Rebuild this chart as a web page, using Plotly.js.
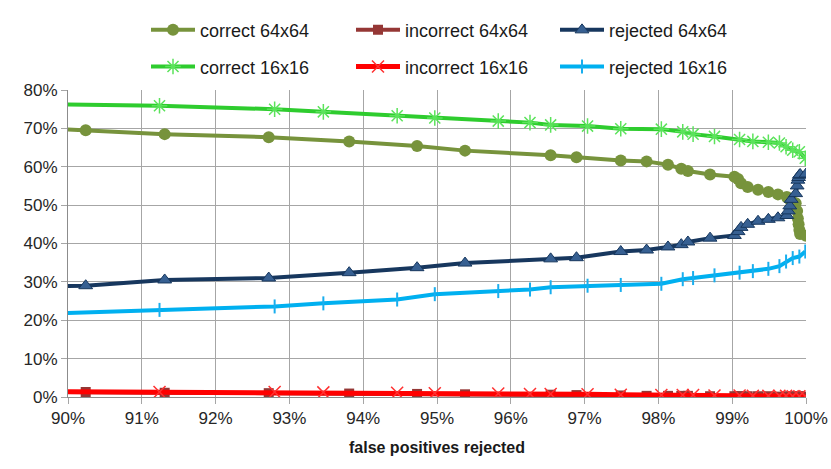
<!DOCTYPE html>
<html>
<head>
<meta charset="utf-8">
<script src="https://cdn.plot.ly/plotly-3.0.1.min.js"></script>
<style>html,body{margin:0;padding:0;background:#fff;}#chart{width:831px;height:469px;}</style>
</head>
<body>
<div id="chart"></div>
<script>
// thresholds (false positives rejected, %) for 64x64 series
const x64 = [89.8, 90.24, 91.31, 92.72, 93.81, 94.73, 95.38, 96.54, 96.89, 97.49, 97.84, 98.13, 98.31, 98.40, 98.70, 99.03, 99.08, 99.12, 99.21, 99.35, 99.49, 99.62, 99.74, 99.76, 99.78, 99.80, 99.86, 99.88, 99.89, 99.90, 99.91, 99.92, 100.0];
const correct64 = [69.9, 69.5, 68.5, 67.7, 66.6, 65.4, 64.2, 63.0, 62.5, 61.6, 61.4, 60.5, 59.5, 58.9, 58.0, 57.4, 56.8, 55.7, 54.7, 54.0, 53.4, 52.8, 52.1, 51.8, 51.5, 51.3, 50.5, 48.5, 46.5, 45.0, 43.5, 42.5, 42.0];
const incorrect64 = [1.3, 1.3, 1.1, 1.0, 0.9, 0.8, 0.7, 0.6, 0.5, 0.4, 0.3, 0.3, 0.3, 0.3, 0.2, 0.2, 0.2, 0.2, 0.2, 0.2, 0.2, 0.1, 0.1, 0.1, 0.1, 0.1, 0.1, 0.1, 0.1, 0.1, 0.1, 0.1, 0.1];
const rejected64 = [28.9, 29.0, 30.5, 31.0, 32.4, 33.7, 34.9, 36.0, 36.3, 37.9, 38.3, 39.1, 39.7, 40.4, 41.4, 42.1, 43.1, 44.2, 45.0, 45.8, 46.3, 46.7, 47.3, 48.5, 49.8, 51.5, 53.0, 55.0, 56.5, 57.2, 57.8, 58.0, 58.1];

// thresholds for 16x16 series
const x16 = [89.8, 91.24, 92.80, 93.46, 94.46, 94.97, 95.83, 96.26, 96.54, 97.04, 97.49, 98.04, 98.33, 98.47, 98.76, 99.10, 99.28, 99.49, 99.64, 99.73, 99.82, 99.91, 99.99];
const correct16 = [76.3, 75.9, 75.0, 74.3, 73.3, 72.7, 71.9, 71.5, 70.9, 70.6, 69.9, 69.8, 69.1, 68.5, 67.9, 67.1, 66.6, 66.4, 66.2, 65.2, 64.3, 63.9, 62.2];
const incorrect16 = [1.4, 1.3, 1.3, 1.2, 1.1, 1.0, 0.9, 0.8, 0.8, 0.7, 0.6, 0.5, 0.5, 0.5, 0.4, 0.4, 0.3, 0.3, 0.3, 0.3, 0.2, 0.2, 0.2];
const rejected16 = [21.8, 22.7, 23.6, 24.4, 25.4, 26.8, 27.6, 28.0, 28.6, 29.0, 29.2, 29.5, 30.7, 31.0, 31.7, 32.4, 32.8, 33.4, 34.1, 35.3, 36.2, 36.6, 37.9];

const names = ["correct 64x64", "incorrect 64x64", "rejected 64x64", "correct 16x16", "incorrect 16x16", "rejected 16x16"];
const xTickVals = [90, 91, 92, 93, 94, 95, 96, 97, 98, 99, 100];
const xTickText = ["90%", "91%", "92%", "93%", "94%", "95%", "96%", "97%", "98%", "99%", "100%"];
const yTickVals = [0, 10, 20, 30, 40, 50, 60, 70, 80];
const yTickText = ["0%", "10%", "20%", "30%", "40%", "50%", "60%", "70%", "80%"];

const font = "Liberation Sans, Arial, sans-serif";
const legIds = ["legend", "legend2", "legend3", "legend4", "legend5", "legend6"];

const traces = [
  {x: x64, y: correct64, name: names[0],
   line: {color: "#77933C", width: 4},
   marker: {symbol: "circle", size: 12, color: "#77933C"}},
  {x: x64, y: incorrect64, name: names[1],
   line: {color: "#953735", width: 4},
   marker: {symbol: "square", size: 10, color: "#953735"}},
  {x: x64, y: rejected64, name: names[2],
   line: {color: "#17375E", width: 4},
   marker: {symbol: "triangle-up", size: 12, color: "#376092", line: {color: "#17375E", width: 1}}},
  {x: x16, y: correct16, name: names[3],
   line: {color: "#2ECC2E", width: 4},
   marker: {symbol: "asterisk-open", size: 13, color: "#5BE35B", line: {color: "#5BE35B", width: 1.5}}},
  {x: x16, y: incorrect16, name: names[4],
   line: {color: "#FF0000", width: 5},
   marker: {symbol: "x-thin-open", size: 12, color: "#FF3030", line: {color: "#FF3030", width: 1.5}}},
  {x: x16, y: rejected16, name: names[5],
   line: {color: "#00B0F0", width: 4},
   marker: {symbol: "line-ns-open", size: 10, color: "#19AEEE", line: {color: "#19AEEE", width: 2}}}
].map((t, i) => Object.assign({type: "scatter", mode: "lines+markers", cliponaxis: true, legend: legIds[i]}, t));

// legend pixel anchors (left edge of symbol, row centre)
const legCols = [146, 351, 555];
const legRows = [17, 55];
function legendAt(px, py) {
  return {
    orientation: "h", xanchor: "left", yanchor: "middle",
    x: (px - 68) / 738, y: (397 - py) / 318,
    font: {family: font, size: 18, color: "#1a1a1a"},
    bgcolor: "rgba(0,0,0,0)", itemwidth: 44, borderwidth: 0
  };
}

const layout = {
  width: 831, height: 469,
  margin: {l: 68, r: 25, t: 79, b: 72},
  paper_bgcolor: "#ffffff", plot_bgcolor: "#ffffff",
  font: {family: font, size: 18, color: "#262626"},
  showlegend: true,
  xaxis: {
    range: [90, 100], tickmode: "array", tickvals: xTickVals, ticktext: xTickText,
    showgrid: true, gridcolor: "#A6A6A6", gridwidth: 1,
    showline: true, linecolor: "#8C8C8C", linewidth: 1,
    ticks: "outside", ticklen: 6, tickcolor: "#A6A6A6",
    zeroline: false,
    tickfont: {family: font, size: 17, color: "#262626"},
    title: {text: "<b>false positives rejected</b>", font: {family: font, size: 16, color: "#1a1a1a"}, standoff: 14}
  },
  yaxis: {
    range: [0, 80], tickmode: "array", tickvals: yTickVals, ticktext: yTickText,
    showgrid: true, gridcolor: "#A6A6A6", gridwidth: 1,
    showline: true, linecolor: "#8C8C8C", linewidth: 1,
    ticks: "outside", ticklen: 6, tickcolor: "#A6A6A6",
    zeroline: false,
    tickfont: {family: font, size: 17, color: "#262626"}
  }
};
legIds.forEach((id, i) => {
  layout[id] = legendAt(legCols[i % 3], legRows[Math.floor(i / 3)]);
});

Plotly.newPlot("chart", traces, layout, {displayModeBar: false, staticPlot: true});
</script>
</body>
</html>
